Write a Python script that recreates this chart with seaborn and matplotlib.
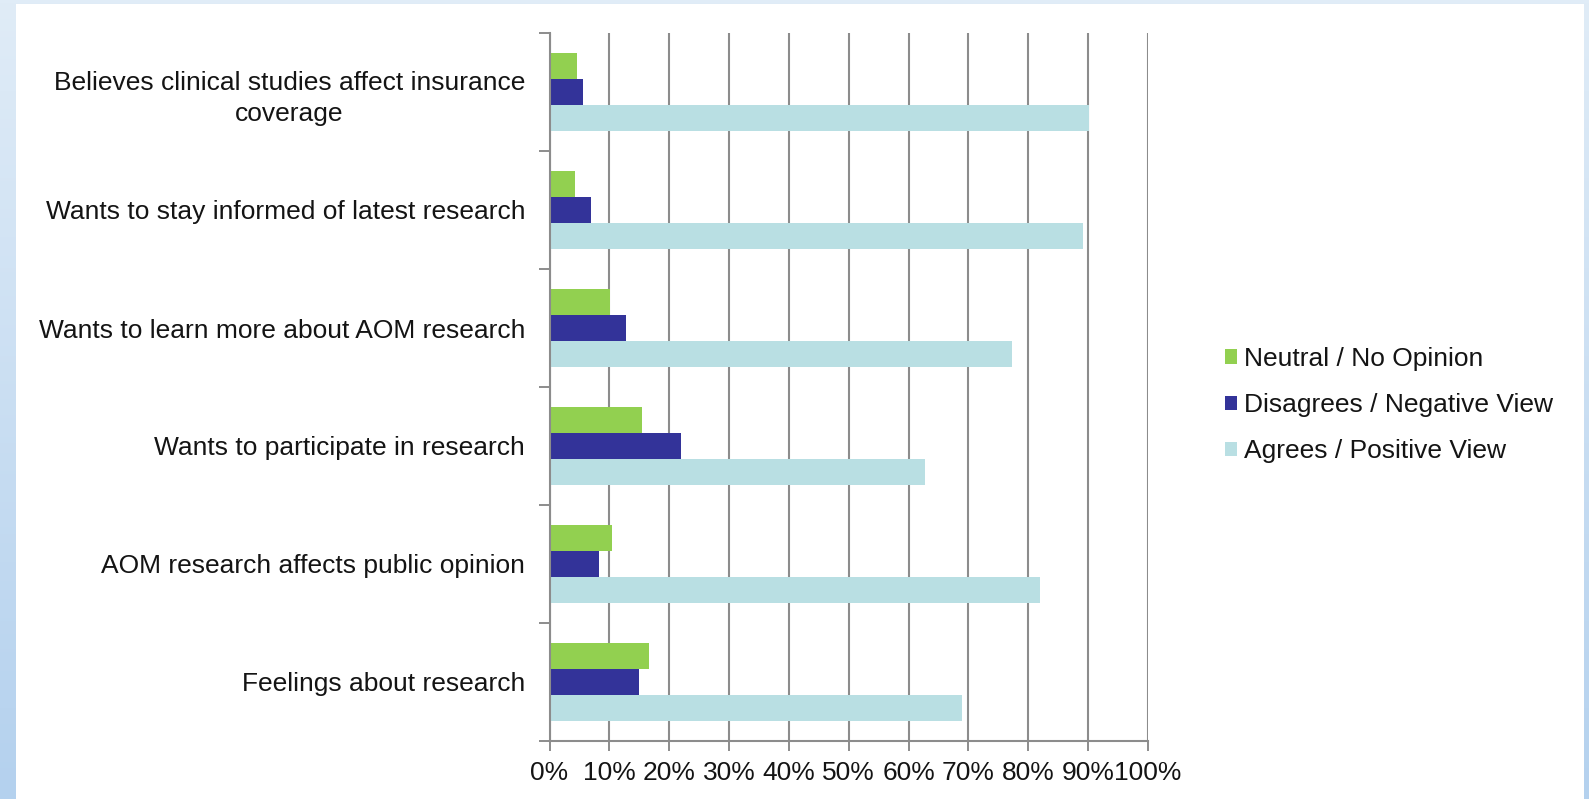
import numpy as np
import pandas as pd
import matplotlib
matplotlib.use("Agg")
import matplotlib.pyplot as plt
import seaborn as sns
from matplotlib.patches import Rectangle
from matplotlib.ticker import FixedLocator
from matplotlib.colors import LinearSegmentedColormap

# ---- data -------------------------------------------------------------
categories = [
    "Believes clinical studies affect insurance\ncoverage",
    "Wants to stay informed of latest research",
    "Wants to learn more about AOM research",
    "Wants to participate in research",
    "AOM research affects public opinion",
    "Feelings about research",
]
series_names = ["Neutral / No Opinion", "Disagrees / Negative View", "Agrees / Positive View"]
neutral = [4.6, 4.2, 10.1, 15.5, 10.5, 16.6]
disagrees = [5.6, 6.9, 12.8, 22.0, 8.3, 14.9]
agrees = [90.2, 89.2, 77.2, 62.8, 81.9, 68.9]
x_ticks = [0, 10, 20, 30, 40, 50, 60, 70, 80, 90, 100]
x_tick_labels = ["0%", "10%", "20%", "30%", "40%", "50%", "60%", "70%", "80%", "90%", "100%"]
colors = ["#92D050", "#333399", "#B9DFE3"]

df = pd.DataFrame({
    "category": categories * 3,
    "series": [series_names[0]] * 6 + [series_names[1]] * 6 + [series_names[2]] * 6,
    "value": neutral + disagrees + agrees,
})

# ---- figure -----------------------------------------------------------
sns.set_theme(style="white")
plt.rcParams["font.family"] = ["Liberation Sans", "DejaVu Sans"]
FS = 19
TXT = "#141414"
GRID = "#8C8C8C"

W, H = 1589, 799
fig = plt.figure(figsize=(W / 100, H / 100), dpi=100)

# background gradient + white panel
bg = fig.add_axes([0, 0, 1, 1], zorder=-10)
grad = np.linspace(0, 1, 256).reshape(-1, 1)
cmap = LinearSegmentedColormap.from_list("bg", ["#E0ECF7", "#B4D1EE"])
bg.imshow(grad, aspect="auto", cmap=cmap, extent=[0, 1, 0, 1], origin="upper")
bg.add_patch(Rectangle((16 / W, 0), (1584 - 16) / W, 1 - 4 / H, facecolor="white",
                       edgecolor="none", transform=bg.transAxes))
bg.set_xlim(0, 1)
bg.set_ylim(0, 1)
bg.axis("off")

left, right, top, bottom = 549.5, 1148, 33, 741
ax = fig.add_axes([left / W, 1 - bottom / H, (right - left) / W, (bottom - top) / H])
ax.set_facecolor("none")

sns.barplot(data=df, y="category", x="value", hue="series", order=categories,
            hue_order=series_names, palette=colors, orient="h", width=0.663,
            saturation=1, ax=ax, linewidth=0, legend=True)

ax.set_xlim(0, 100)
ax.set_ylim(5.5, -0.5)
ax.set_xlabel("")
ax.set_ylabel("")

# x axis
ax.set_xticks(x_ticks)
ax.set_xticklabels(x_tick_labels, fontsize=FS, color=TXT)
ax.tick_params(axis="x", direction="out", length=7.5, width=1.4, color=GRID, pad=7,
               bottom=True)
ax.xaxis.grid(True, color=GRID, linewidth=1.5)
ax.yaxis.grid(False)
ax.set_axisbelow(True)

# y axis: ticks at band boundaries, labels at centres
n = len(categories)
ax.yaxis.set_major_locator(FixedLocator(np.arange(-0.5, n, 1.0)))
ax.yaxis.set_minor_locator(FixedLocator(np.arange(n)))
ax.set_yticklabels([""] * (n + 1))
ax.set_yticklabels(categories, minor=True, fontsize=FS, color=TXT)
for lab in ax.get_yticklabels(minor=True):
    lab.set_multialignment("center")
    lab.set_linespacing(1.4)
ax.tick_params(axis="y", which="major", direction="out", length=8, width=1.4, color=GRID,
               left=True)
ax.tick_params(axis="y", which="minor", length=0, pad=17.6)

for s in ["top", "right"]:
    ax.spines[s].set_visible(False)
for s in ["left", "bottom"]:
    ax.spines[s].set_color(GRID)
    ax.spines[s].set_linewidth(1.5)

# legend
handles, labels = ax.get_legend_handles_labels()
ax.legend(handles, labels, loc="center left", bbox_to_anchor=(1225 / W, 1 - 405 / H),
          bbox_transform=fig.transFigure, frameon=False, fontsize=FS,
          handlelength=0.45, handleheight=0.45, handletextpad=0.27, labelspacing=0.84,
          borderpad=0, borderaxespad=0, labelcolor=TXT)

fig.savefig("out.png", dpi=100)
